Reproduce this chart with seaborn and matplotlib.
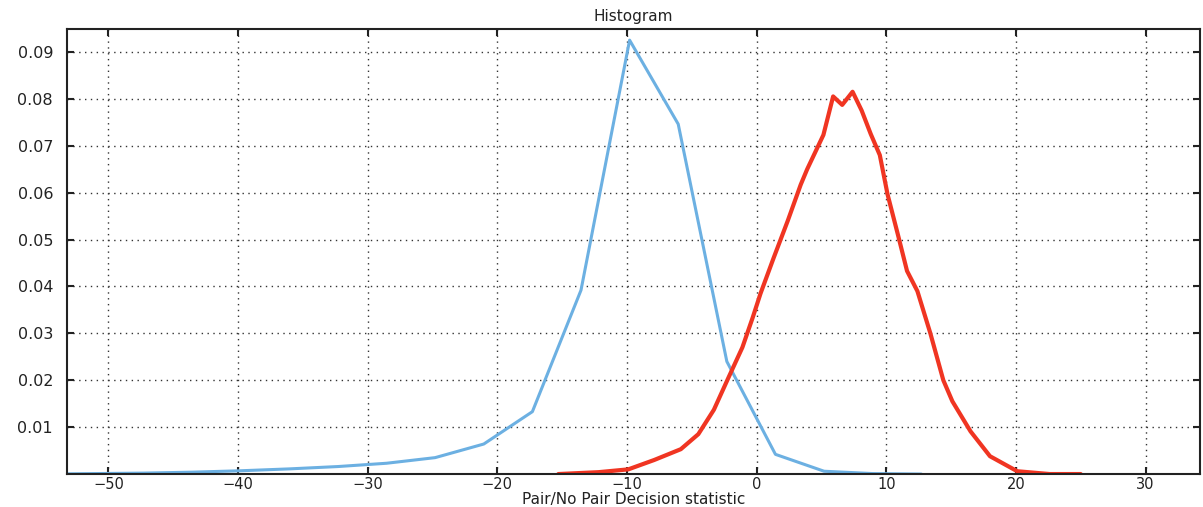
import matplotlib
matplotlib.use("Agg")
import matplotlib.pyplot as plt
import seaborn as sns
import pandas as pd

# --- data ---
blue_x = [-54.8, -51.05, -47.3, -43.55, -39.8, -36.05, -32.3, -28.55, -24.8, -21.05,
          -17.3, -13.55, -9.8, -6.05, -2.3, 1.45, 5.2, 8.95, 12.7]
blue_y = [0.0, 0.0001, 0.0002, 0.0004, 0.0007, 0.0011, 0.0016, 0.0023, 0.0035, 0.0064,
          0.0133, 0.0392, 0.0925, 0.0746, 0.0240, 0.0042, 0.0006, 0.0001, 0.0]

red_x = [-15.3, -12.2, -9.9, -7.9, -5.85, -4.5, -3.3, -2.15, -1.1, -0.3, 0.3, 1.3,
         2.4, 3.4, 3.9, 4.5, 5.15, 5.9, 6.6, 7.4, 8.1, 8.8, 9.5, 10.1, 10.9, 11.6,
         12.4, 13.4, 14.4, 15.1, 16.5, 18.0, 20.1, 22.6, 25.0]
red_y = [0.0, 0.0004, 0.001, 0.003, 0.0053, 0.0085, 0.0137, 0.0207, 0.027, 0.0334,
         0.0385, 0.046, 0.054, 0.0617, 0.065, 0.0685, 0.0723, 0.0805, 0.0787, 0.0815,
         0.0775, 0.0725, 0.068, 0.0596, 0.051, 0.0433, 0.039, 0.030, 0.020, 0.0155,
         0.0091, 0.0038, 0.0006, 0.0, 0.0]

x_ticks = [-50, -40, -30, -20, -10, 0, 10, 20, 30]
y_ticks = [0.01, 0.02, 0.03, 0.04, 0.05, 0.06, 0.07, 0.08, 0.09]
y_tick_labels = ["0.01", "0.02", "0.03", "0.04", "0.05", "0.06", "0.07", "0.08", "0.09"]

title = "Histogram"
xlabel = "Pair/No Pair Decision statistic"

sns.set_style("white")
plt.rcParams["font.family"] = ["DejaVu Sans"]

fig = plt.figure(figsize=(12.03, 5.07), dpi=100)
ax = fig.add_axes([0.0557, 0.065, 0.9418, 0.878])

df_blue = pd.DataFrame({"x": blue_x, "y": blue_y})
df_red = pd.DataFrame({"x": red_x, "y": red_y})

sns.lineplot(data=df_blue, x="x", y="y", ax=ax, color="#6cb0e2", linewidth=2.2,
             sort=False, estimator=None)
sns.lineplot(data=df_red, x="x", y="y", ax=ax, color="#f03522", linewidth=3.0,
             sort=False, estimator=None)

ax.set_xlim(-53.2, 34.2)
ax.set_ylim(0, 0.0949)
ax.set_xticks(x_ticks)
ax.set_xticklabels([("\u2212" + str(-t)) if t < 0 else str(t) for t in x_ticks])
ax.set_yticks(y_ticks)
ax.set_yticklabels(y_tick_labels)

ax.grid(True, color="#333333", linestyle=(0, (1, 3.2)), linewidth=1.0)
ax.set_axisbelow(True)

for s in ax.spines.values():
    s.set_visible(True)
    s.set_color("#222222")
    s.set_linewidth(1.5)

ax.tick_params(axis="both", which="both", direction="in", length=5, width=1.5,
               top=True, right=True, bottom=True, left=True, colors="#222222",
               labelcolor="#222222")
ax.tick_params(axis="y", pad=10, labelsize=11.5)
ax.tick_params(axis="x", pad=2, labelsize=10.5)

ax.set_title(title, fontsize=11, color="#222222", pad=6)
ax.set_xlabel(xlabel, fontsize=11, color="#222222", labelpad=0)
ax.set_ylabel("")

fig.savefig("out.png", dpi=100, facecolor="white")
